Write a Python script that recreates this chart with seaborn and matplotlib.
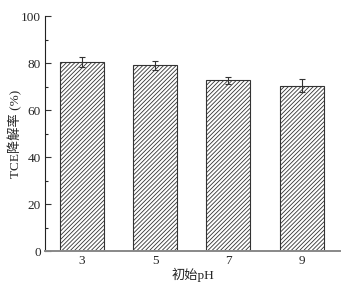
import matplotlib
matplotlib.use("Agg")
import matplotlib.pyplot as plt
import seaborn as sns
import pandas as pd
import numpy as np

categories = ["3", "5", "7", "9"]
values = [80.4, 79.0, 72.6, 70.3]
errors = [2.0, 2.0, 1.3, 2.8]

sns.set_style("ticks")
plt.rcParams['font.family'] = ['Liberation Serif', 'Noto Sans CJK SC']
plt.rcParams['hatch.linewidth'] = 0.6
plt.rcParams['hatch.color'] = '#333333'

df = pd.DataFrame({"pH": categories, "rate": values})

fig = plt.figure(figsize=(3.48, 2.87), dpi=100)
ax = fig.add_axes([0.129, 0.125, 0.848, 0.819])
sns.barplot(data=df, x="pH", y="rate", ax=ax, color="white", width=0.6,
            edgecolor="#333333", linewidth=0.8, errorbar=None)
for p in ax.patches:
    p.set_hatch("////////")
ax.errorbar(np.arange(len(categories)), values, yerr=errors, fmt="none",
            ecolor="#333333", elinewidth=0.8, capsize=2.5, capthick=0.8)

ax.set_xlim(-0.5, 3.52)
ax.set_ylim(0, 100)
ax.set_yticks([0, 20, 40, 60, 80, 100])
ax.set_yticks([10, 30, 50, 70, 90], minor=True)
ax.tick_params(axis='both', labelsize=9.5, direction='in', length=4, width=0.8, color='#333333', pad=3)
ax.tick_params(axis='y', which='minor', direction='in', length=2.5, width=0.8)
ax.tick_params(axis='x', length=3, pad=3)
ax.set_xlabel("初始pH", fontsize=9.5, labelpad=0)
ax.set_ylabel("TCE降解率 (%)", fontsize=9.5, labelpad=-1)
sns.despine(ax=ax)
ax.spines['left'].set_linewidth(0.8)
ax.spines['left'].set_color('#222222')
ax.spines['bottom'].set_linewidth(1.4)
ax.spines['bottom'].set_color('#888888')

fig.savefig("out.png", dpi=100)
